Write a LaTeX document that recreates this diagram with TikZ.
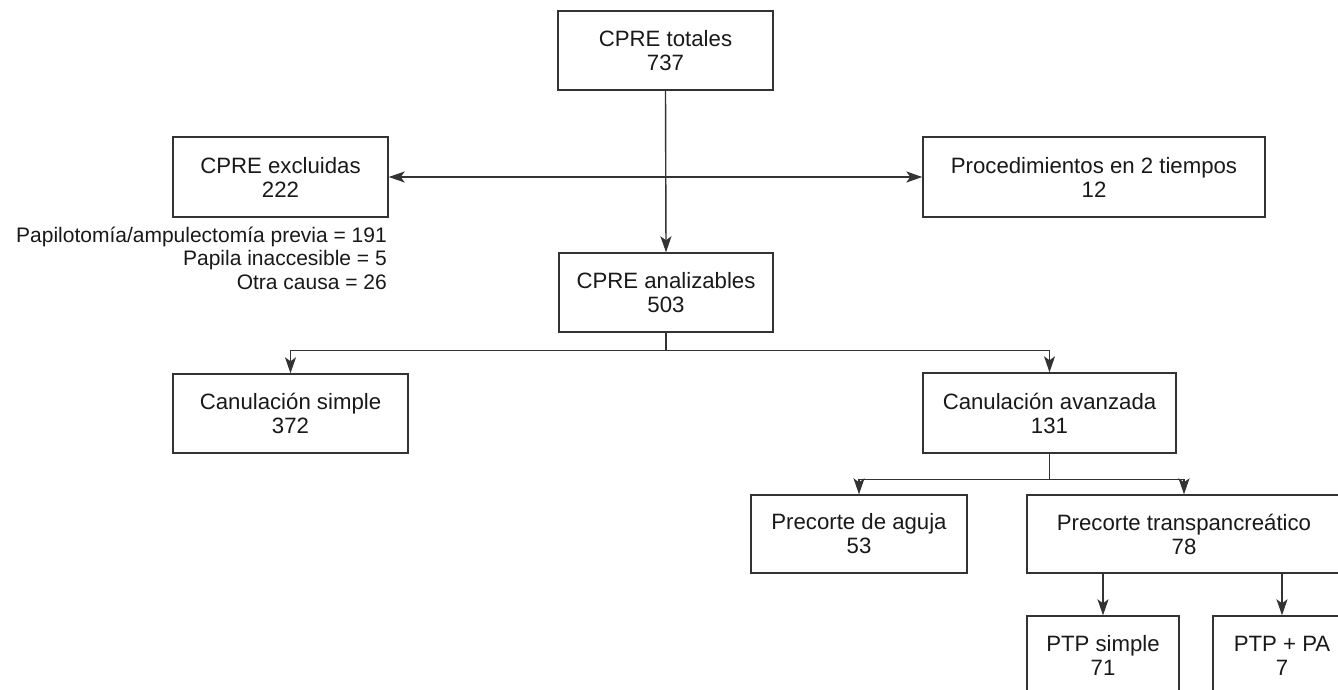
\documentclass[tikz,border=0pt]{standalone}
\usepackage{fontspec}
\setmainfont{Liberation Sans}
\usetikzlibrary{arrows.meta}
\begin{document}
\begin{tikzpicture}[x=1pt,y=-1pt,
  every node/.style={font=\fontsize{22.2pt}{24pt}\selectfont, text=black!90},
  box/.style={draw=black!80, line width=1.4pt, align=center, inner sep=0pt},
  link/.style={draw=black!80, line width=1.4pt},
  tip/.style={},
  arr/.style={link, -{Stealth[length=16pt,width=11pt,inset=4pt]}},
  note/.style={anchor=base east, inner sep=0pt, font=\fontsize{21pt}{24pt}\selectfont}]
\clip (0,0) rectangle (1338,690);
\fill[white] (0,0) rectangle (1338,690);
\node[box, minimum width=215pt, minimum height=79pt] (tot) at (665.5,50.5) {CPRE totales\\737};
\node[box, minimum width=215pt, minimum height=80pt] (exc) at (280.5,177) {CPRE excluidas\\222};
\node[box, minimum width=342pt, minimum height=80pt] (proc) at (1094,177) {Procedimientos en 2 tiempos\\12};
\node[box, minimum width=214pt, minimum height=79pt] (ana) at (666,292.5) {CPRE analizables\\503};
\node[box, minimum width=235pt, minimum height=79pt] (cs) at (290.5,413.5) {Canulación simple\\372};
\node[box, minimum width=253pt, minimum height=80pt] (ca) at (1049.5,413) {Canulación avanzada\\131};
\node[box, minimum width=216pt, minimum height=78pt] (pa) at (859,534) {Precorte de aguja\\53};
\node[box, minimum width=314pt, minimum height=78pt] (pt) at (1184,534) {Precorte transpancreático\\78};
\node[box, minimum width=152pt, minimum height=79pt] (ps) at (1103,655.5) {PTP simple\\71};
\node[box, minimum width=138pt, minimum height=79pt] (pp) at (1282,655.5) {PTP + PA\\7};
\node[note] (n1) at (387,242) {Papilotomía/ampulectomía previa = 191};
\node[note] (n2) at (387,265.5) {Papila inaccesible = 5};
\node[note] (n3) at (387,289) {Otra causa = 26};
\draw[arr] (tot.south) -- (ana.north);
\draw[link, {Stealth[length=16pt,width=11pt,inset=4pt]}-{Stealth[length=16pt,width=11pt,inset=4pt]}] (exc.east) -- (proc.west);
\draw[link] (ana.south) -- ++(0,17.5) coordinate (j1);
\draw[arr] (j1) -| (cs.north);
\draw[arr] (j1) -| (ca.north);
\draw[link] (ca.south) -- ++(0,26) coordinate (j2);
\draw[arr] (j2) -| (pa.north);
\draw[arr] (j2) -| (pt.north);
\draw[arr] (ps.north |- pt.south) -- (ps.north);
\draw[arr] (pp.north |- pt.south) -- (pp.north);
\end{tikzpicture}
\end{document}
